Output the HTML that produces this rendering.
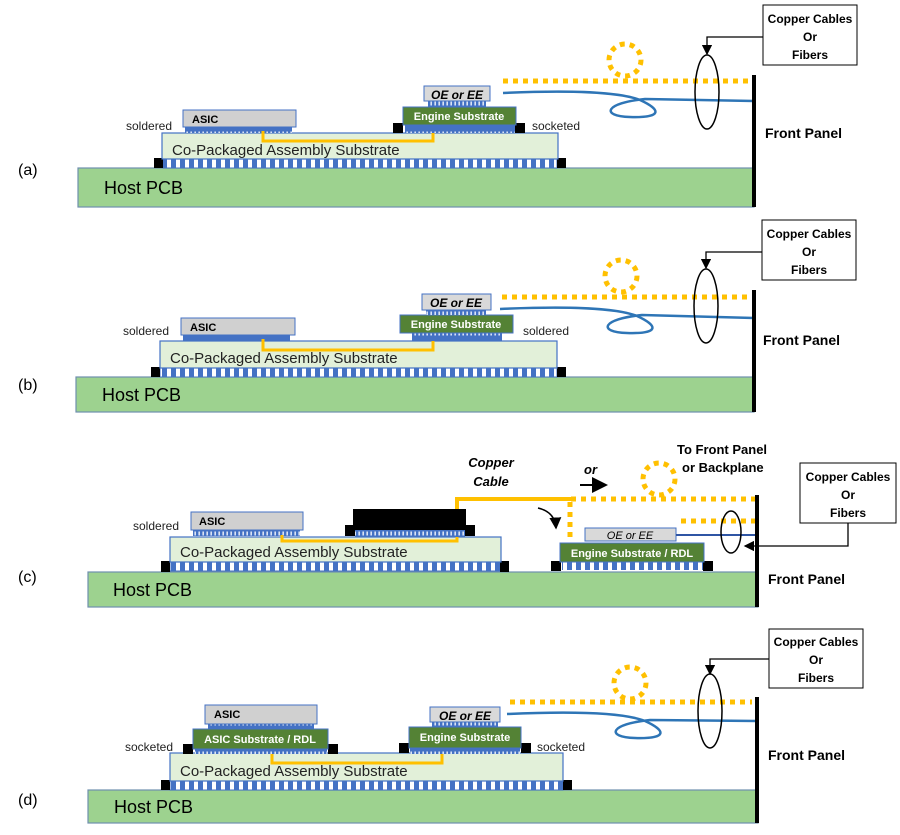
<!DOCTYPE html>
<html><head><meta charset="utf-8"><style>
html,body{margin:0;padding:0;background:#fff}
svg{display:block}
text{font-family:"Liberation Sans",sans-serif}
</style></head><body>
<svg width="900" height="835" viewBox="0 0 900 835" xmlns="http://www.w3.org/2000/svg">
<defs>
<pattern id="bb" width="9" height="10" patternUnits="userSpaceOnUse"><rect width="9" height="10" fill="#fff"/><rect x="0" y="0" width="5" height="10" fill="#4472c4"/></pattern>
<pattern id="sb" width="4" height="10" patternUnits="userSpaceOnUse"><rect width="4" height="10" fill="#4472c4"/><rect x="2.5" y="1.5" width="1.3" height="4" fill="#fff"/></pattern>
<marker id="ah" markerWidth="8" markerHeight="8" refX="7" refY="4" orient="auto"><path d="M0,0 L8,4 L0,8z" fill="#000"/></marker>
</defs>
<g font-size="12">
<!-- ===== (a) ===== -->
<text x="18" y="175" font-size="16">(a)</text>
<rect x="78" y="168" width="676" height="39" fill="#9dd28f" stroke="#6f8fae" stroke-width="1.2"/>
<text x="104" y="194" font-size="18">Host PCB</text>
<rect x="163" y="159" width="394" height="9" fill="url(#bb)" stroke="#4472c4" stroke-width="1"/>
<rect x="154" y="158" width="9" height="10" fill="#000"/><rect x="557" y="158" width="9" height="10" fill="#000"/>
<rect x="162" y="133" width="396" height="26" fill="#e2f0d9" stroke="#4472c4" stroke-width="1.2"/>
<text x="172" y="155" font-size="15" fill="#222">Co-Packaged Assembly Substrate</text>
<rect x="185" y="127" width="107" height="6" fill="url(#sb)"/>
<rect x="183" y="110" width="113" height="17" fill="#d0d0d0" stroke="#4472c4"/>
<text x="192" y="123" font-size="11" font-weight="bold">ASIC</text>
<path d="M263,131 V141 H433 V131" fill="none" stroke="#ffc000" stroke-width="3"/>
<rect x="405" y="125" width="110" height="8" fill="url(#sb)"/>
<rect x="393" y="123" width="10" height="10" fill="#000"/><rect x="515" y="123" width="10" height="10" fill="#000"/>
<rect x="403" y="107" width="113" height="18" fill="#548235" stroke="#4472c4"/>
<text x="459" y="120" font-size="11" font-weight="bold" fill="#fff" text-anchor="middle">Engine Substrate</text>
<rect x="428" y="101" width="58" height="6" fill="url(#sb)"/>
<rect x="424" y="86" width="66" height="15" fill="#d9d9d9" stroke="#4472c4"/>
<text x="457" y="99" font-size="12" font-weight="bold" font-style="italic" text-anchor="middle">OE or EE</text>
<text x="126" y="130" fill="#222">soldered</text>
<text x="532" y="130" fill="#222">socketed</text>
<line x1="503" y1="81" x2="752" y2="81" stroke="#ffc000" stroke-width="5" stroke-dasharray="5,5"/>
<circle cx="625" cy="60" r="16" fill="none" stroke="#ffc000" stroke-width="5" stroke-dasharray="5,5"/>
<path d="M503,93 C570,90 620,92 640,100 C662,110 662,118 630,117 C600,116 605,103 645,99 L754,101" fill="none" stroke="#2e75b6" stroke-width="2.5"/>
<ellipse cx="707" cy="92" rx="12" ry="37" fill="none" stroke="#000" stroke-width="1.5"/>
<path d="M763,37 H707 V54" fill="none" stroke="#000" stroke-width="1.3" marker-end="url(#ah)"/>
<rect x="763" y="5" width="94" height="60" fill="#fff" stroke="#000"/>
<text x="810" y="23" font-weight="bold" text-anchor="middle">Copper Cables</text>
<text x="810" y="41" font-weight="bold" text-anchor="middle">Or</text>
<text x="810" y="59" font-weight="bold" text-anchor="middle">Fibers</text>
<rect x="752" y="75" width="4" height="132" fill="#000"/>
<text x="765" y="138" font-size="14" font-weight="bold">Front Panel</text>

<!-- ===== (b) ===== -->
<text x="18" y="390" font-size="16">(b)</text>
<rect x="76" y="377" width="678" height="35" fill="#9dd28f" stroke="#6f8fae" stroke-width="1.2"/>
<text x="102" y="401" font-size="18">Host PCB</text>
<rect x="160" y="368" width="397" height="9" fill="url(#bb)" stroke="#4472c4" stroke-width="1"/>
<rect x="151" y="367" width="9" height="10" fill="#000"/><rect x="557" y="367" width="9" height="10" fill="#000"/>
<rect x="160" y="341" width="397" height="27" fill="#e2f0d9" stroke="#4472c4" stroke-width="1.2"/>
<text x="170" y="363" font-size="15" fill="#222">Co-Packaged Assembly Substrate</text>
<rect x="183" y="335" width="107" height="6" fill="url(#sb)"/>
<rect x="181" y="318" width="114" height="17" fill="#d0d0d0" stroke="#4472c4"/>
<text x="190" y="331" font-size="11" font-weight="bold">ASIC</text>
<path d="M263,339 V350 H433 V339" fill="none" stroke="#ffc000" stroke-width="3"/>
<rect x="412" y="333" width="90" height="8" fill="url(#sb)"/>
<rect x="400" y="315" width="113" height="18" fill="#548235" stroke="#4472c4"/>
<text x="456" y="328" font-size="11" font-weight="bold" fill="#fff" text-anchor="middle">Engine Substrate</text>
<rect x="426" y="310" width="60" height="5" fill="url(#sb)"/>
<rect x="422" y="294" width="69" height="16" fill="#d9d9d9" stroke="#4472c4"/>
<text x="456" y="307" font-size="12" font-weight="bold" font-style="italic" text-anchor="middle">OE or EE</text>
<text x="123" y="335" fill="#222">soldered</text>
<text x="523" y="335" fill="#222">soldered</text>
<line x1="502" y1="297" x2="752" y2="297" stroke="#ffc000" stroke-width="5" stroke-dasharray="5,5"/>
<circle cx="621" cy="276" r="16" fill="none" stroke="#ffc000" stroke-width="5" stroke-dasharray="5,5"/>
<path d="M500,309 C567,306 617,308 637,316 C659,326 659,334 627,333 C597,332 602,319 642,315 L754,318" fill="none" stroke="#2e75b6" stroke-width="2.5"/>
<ellipse cx="706" cy="306" rx="12" ry="37" fill="none" stroke="#000" stroke-width="1.5"/>
<path d="M762,252 H706 V268" fill="none" stroke="#000" stroke-width="1.3" marker-end="url(#ah)"/>
<rect x="762" y="220" width="94" height="60" fill="#fff" stroke="#000"/>
<text x="809" y="238" font-weight="bold" text-anchor="middle">Copper Cables</text>
<text x="809" y="256" font-weight="bold" text-anchor="middle">Or</text>
<text x="809" y="274" font-weight="bold" text-anchor="middle">Fibers</text>
<rect x="752" y="290" width="4" height="122" fill="#000"/>
<text x="763" y="345" font-size="14" font-weight="bold">Front Panel</text>

<!-- ===== (c) ===== -->
<text x="18" y="582" font-size="16">(c)</text>
<rect x="88" y="572" width="670" height="35" fill="#9dd28f" stroke="#6f8fae" stroke-width="1.2"/>
<text x="113" y="596" font-size="18">Host PCB</text>
<rect x="170" y="562" width="330" height="9" fill="url(#bb)" stroke="#4472c4" stroke-width="1"/>
<rect x="161" y="561" width="9" height="11" fill="#000"/><rect x="500" y="561" width="9" height="11" fill="#000"/>
<rect x="170" y="537" width="331" height="25" fill="#e2f0d9" stroke="#4472c4" stroke-width="1.2"/>
<text x="180" y="557" font-size="15" fill="#222">Co-Packaged Assembly Substrate</text>
<rect x="193" y="530" width="107" height="6" fill="url(#sb)"/>
<rect x="191" y="512" width="112" height="18" fill="#d0d0d0" stroke="#4472c4"/>
<text x="199" y="525" font-size="11" font-weight="bold">ASIC</text>
<text x="133" y="530" fill="#222">soldered</text>
<path d="M282,535 V541 H457 V535" fill="none" stroke="#ffc000" stroke-width="3"/>
<rect x="355" y="529" width="110" height="8" fill="url(#sb)"/>
<rect x="345" y="525" width="10" height="11" fill="#000"/><rect x="465" y="525" width="10" height="11" fill="#000"/>
<rect x="353" y="509" width="113" height="21" fill="#000"/>
<path d="M457,509 V499 H571" fill="none" stroke="#ffc000" stroke-width="4"/>
<line x1="571" y1="499" x2="757" y2="499" stroke="#ffc000" stroke-width="5" stroke-dasharray="5,5"/>
<line x1="570" y1="502" x2="570" y2="542" stroke="#ffc000" stroke-width="5" stroke-dasharray="5,5"/>
<text x="491" y="467" font-size="13" font-weight="bold" font-style="italic" text-anchor="middle">Copper</text>
<text x="491" y="486" font-size="13" font-weight="bold" font-style="italic" text-anchor="middle">Cable</text>
<text x="584" y="474" font-size="13" font-weight="bold" font-style="italic">or</text>
<line x1="580" y1="485" x2="606" y2="485" stroke="#000" stroke-width="2" marker-end="url(#ah)"/>
<circle cx="659" cy="479" r="16" fill="none" stroke="#ffc000" stroke-width="5" stroke-dasharray="5,5"/>
<text x="677" y="454" font-size="13" font-weight="bold">To Front Panel</text>
<text x="682" y="472" font-size="13" font-weight="bold">or Backplane</text>
<path d="M538,508 Q555,512 556,528" fill="none" stroke="#000" stroke-width="1.5" marker-end="url(#ah)"/>
<line x1="681" y1="521" x2="757" y2="521" stroke="#ffc000" stroke-width="5" stroke-dasharray="5,5"/>
<rect x="562" y="562" width="141" height="8" fill="url(#bb)"/>
<rect x="551" y="561" width="10" height="10" fill="#000"/><rect x="703" y="561" width="10" height="10" fill="#000"/>
<rect x="560" y="543" width="144" height="19" fill="#548235" stroke="#4472c4"/>
<text x="632" y="557" font-size="11" font-weight="bold" fill="#fff" text-anchor="middle">Engine Substrate / RDL</text>
<rect x="585" y="528" width="91" height="13" fill="#d9d9d9" stroke="#4472c4"/>
<text x="630" y="539" font-size="11" font-style="italic" text-anchor="middle">OE or EE</text>
<line x1="676" y1="535" x2="757" y2="535" stroke="#2f55a4" stroke-width="2"/>
<ellipse cx="731" cy="532" rx="10" ry="21" fill="none" stroke="#000" stroke-width="1.5"/>
<path d="M848,523 V546 H745" fill="none" stroke="#000" stroke-width="1.3" marker-end="url(#ah)"/>
<rect x="800" y="463" width="96" height="60" fill="#fff" stroke="#000"/>
<text x="848" y="481" font-weight="bold" text-anchor="middle">Copper Cables</text>
<text x="848" y="499" font-weight="bold" text-anchor="middle">Or</text>
<text x="848" y="517" font-weight="bold" text-anchor="middle">Fibers</text>
<rect x="755" y="495" width="4" height="112" fill="#000"/>
<text x="768" y="584" font-size="14" font-weight="bold">Front Panel</text>

<!-- ===== (d) ===== -->
<text x="18" y="805" font-size="16">(d)</text>
<rect x="88" y="790" width="670" height="33" fill="#9dd28f" stroke="#6f8fae" stroke-width="1.2"/>
<text x="114" y="813" font-size="18">Host PCB</text>
<rect x="170" y="781" width="393" height="9" fill="url(#bb)" stroke="#4472c4" stroke-width="1"/>
<rect x="161" y="780" width="9" height="10" fill="#000"/><rect x="563" y="780" width="9" height="10" fill="#000"/>
<rect x="170" y="753" width="393" height="28" fill="#e2f0d9" stroke="#4472c4" stroke-width="1.2"/>
<text x="180" y="776" font-size="15" fill="#222">Co-Packaged Assembly Substrate</text>
<rect x="195" y="749" width="132" height="5" fill="url(#sb)"/>
<rect x="183" y="744" width="10" height="10" fill="#000"/><rect x="328" y="744" width="10" height="10" fill="#000"/>
<rect x="193" y="729" width="135" height="20" fill="#548235" stroke="#4472c4"/>
<text x="260" y="743" font-size="11" font-weight="bold" fill="#fff" text-anchor="middle">ASIC Substrate / RDL</text>
<rect x="208" y="724" width="106" height="5" fill="url(#sb)"/>
<rect x="205" y="705" width="112" height="19" fill="#d0d0d0" stroke="#4472c4"/>
<text x="214" y="718" font-size="11" font-weight="bold">ASIC</text>
<path d="M272,754 V763 H442 V754" fill="none" stroke="#ffc000" stroke-width="3"/>
<rect x="410" y="748" width="110" height="6" fill="url(#sb)"/>
<rect x="399" y="743" width="10" height="10" fill="#000"/><rect x="521" y="743" width="10" height="10" fill="#000"/>
<rect x="409" y="727" width="112" height="21" fill="#548235" stroke="#4472c4"/>
<text x="465" y="741" font-size="11" font-weight="bold" fill="#fff" text-anchor="middle">Engine Substrate</text>
<rect x="432" y="722" width="66" height="5" fill="url(#sb)"/>
<rect x="430" y="707" width="70" height="15" fill="#d9d9d9" stroke="#4472c4"/>
<text x="465" y="720" font-size="12" font-weight="bold" font-style="italic" text-anchor="middle">OE or EE</text>
<text x="125" y="751" fill="#222">socketed</text>
<text x="537" y="751" fill="#222">socketed</text>
<line x1="510" y1="702" x2="752" y2="702" stroke="#ffc000" stroke-width="5" stroke-dasharray="5,5"/>
<circle cx="630" cy="683" r="16" fill="none" stroke="#ffc000" stroke-width="5" stroke-dasharray="5,5"/>
<path d="M507,714 C575,711 625,713 645,721 C667,731 667,739 635,738 C605,737 610,724 650,720 L757,721" fill="none" stroke="#2e75b6" stroke-width="2.5"/>
<ellipse cx="710" cy="711" rx="12" ry="37" fill="none" stroke="#000" stroke-width="1.5"/>
<path d="M769,659 H710 V674" fill="none" stroke="#000" stroke-width="1.3" marker-end="url(#ah)"/>
<rect x="769" y="629" width="94" height="59" fill="#fff" stroke="#000"/>
<text x="816" y="646" font-weight="bold" text-anchor="middle">Copper Cables</text>
<text x="816" y="664" font-weight="bold" text-anchor="middle">Or</text>
<text x="816" y="682" font-weight="bold" text-anchor="middle">Fibers</text>
<rect x="755" y="697" width="4" height="126" fill="#000"/>
<text x="768" y="760" font-size="14" font-weight="bold">Front Panel</text>
</g>
</svg>
</body></html>
